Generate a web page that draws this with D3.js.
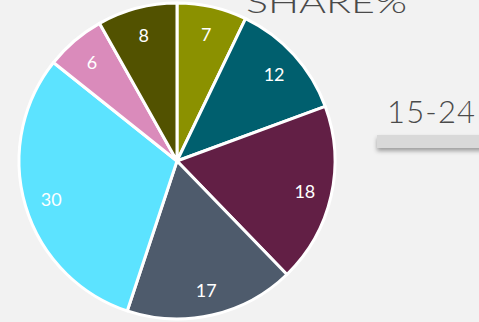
<!DOCTYPE html>
<html>
<head>
<meta charset="utf-8">
<script src="https://cdn.jsdelivr.net/npm/d3@7"></script>
<style>
  html, body { margin: 0; padding: 0; background: #f2f2f2; overflow: hidden; }
  svg { display: block; }
</style>
</head>
<body>
<svg id="chart" width="479" height="322"></svg>
<script>
// Share of each segment, clockwise from 12 o'clock
const categories = ["A", "B", "C", "D", "E", "F", "G"];
const values = [7, 12, 18, 17, 30, 6, 8];
const colors = ["#8b9100", "#005f6e", "#621f45", "#4e5b6c", "#5ce3ff", "#da8bbb", "#525200"];
const titleText = "SHARE%";
const groupText = "15-24";

const svg = d3.select("#chart");
const W = 479, H = 322;
const cx = 177, cy = 161, r = 158;

svg.append("rect").attr("width", W).attr("height", H).attr("fill", "#f2f2f2");

// shadow under the bar next to the age group label
const defs = svg.append("defs");
const f = defs.append("filter").attr("id", "sh").attr("x", "-10%").attr("y", "-50%").attr("width", "130%").attr("height", "250%");
f.append("feDropShadow").attr("dx", 0).attr("dy", 3).attr("stdDeviation", 2).attr("flood-color", "#000").attr("flood-opacity", 0.35);

svg.append("text")
  .attr("x", 246).attr("y", 13)
  .attr("font-family", "Lato, 'Open Sans', sans-serif")
  .attr("font-weight", 300)
  .attr("font-size", 30)
  .attr("fill", "#4a4a4a")
  .attr("textLength", 161)
  .attr("lengthAdjust", "spacingAndGlyphs")
  .text(titleText);

svg.append("rect")
  .attr("x", 377).attr("y", 135).attr("width", 120).attr("height", 13)
  .attr("fill", "#d9d9d9")
  .attr("filter", "url(#sh)");

svg.append("text")
  .attr("x", 387).attr("y", 123)
  .attr("font-family", "Lato, 'Open Sans', sans-serif")
  .attr("font-weight", 300)
  .attr("font-size", 31)
  .attr("fill", "#4a4a4a")
  .attr("textLength", 88)
  .attr("lengthAdjust", "spacing")
  .text(groupText);

const data = categories.map((c, i) => ({ cat: c, value: values[i], color: colors[i] }));
const pie = d3.pie().value(d => d.value).sort(null);
const arc = d3.arc().innerRadius(0).outerRadius(r);
const labelArc = d3.arc().innerRadius(r * 0.83).outerRadius(r * 0.83);

const g = svg.append("g").attr("transform", `translate(${cx},${cy})`);
const arcs = pie(data);

g.selectAll("path.slice")
  .data(arcs)
  .join("path")
  .attr("class", "slice")
  .attr("d", arc)
  .attr("fill", d => d.data.color)
  .attr("stroke", "#ffffff")
  .attr("stroke-width", 3)
  .attr("stroke-linejoin", "round");

g.selectAll("text.lbl")
  .data(arcs)
  .join("text")
  .attr("class", "lbl")
  .attr("transform", d => `translate(${labelArc.centroid(d)})`)
  .attr("text-anchor", "middle")
  .attr("dy", "0.45em")
  .attr("font-family", "Lato, 'Open Sans', sans-serif")
  .attr("font-size", 18)
  .attr("fill", "#ffffff")
  .text(d => d.data.value);
</script>
</body>
</html>
